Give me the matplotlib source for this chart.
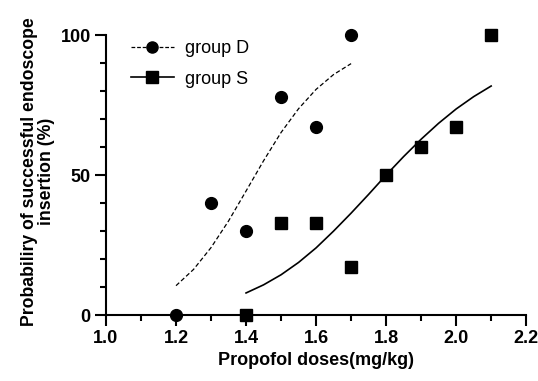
import matplotlib
matplotlib.use("Agg")
import matplotlib.pyplot as plt
from matplotlib.ticker import MultipleLocator
from matplotlib.lines import Line2D

plt.rcParams['font.family'] = ['Liberation Sans', 'DejaVu Sans']

# observed points
dose_d = [1.2, 1.3, 1.4, 1.5, 1.6, 1.7]
prob_d = [0, 40, 30, 78, 67, 100]
dose_s = [1.4, 1.5, 1.6, 1.7, 1.8, 1.9, 2.0, 2.1]
prob_s = [0, 33, 33, 17, 50, 60, 67, 100]

# fitted curves
fit_x_d = [1.20, 1.25, 1.30, 1.35, 1.40, 1.45, 1.50, 1.55, 1.60, 1.65, 1.70]
fit_y_d = [10.5, 16.3, 24.1, 33.6, 44.3, 55.1, 65.2, 73.7, 80.6, 85.9, 89.8]
fit_x_s = [1.40, 1.45, 1.50, 1.55, 1.60, 1.65, 1.70, 1.75, 1.80, 1.85,
           1.90, 1.95, 2.00, 2.05, 2.10]
fit_y_s = [7.9, 10.8, 14.4, 18.8, 24.0, 30.0, 36.4, 43.1, 50.0, 56.6,
           62.8, 68.5, 73.6, 78.0, 81.8]

xticks = [1.0, 1.2, 1.4, 1.6, 1.8, 2.0, 2.2]
xtick_labels = ['1.0', '1.2', '1.4', '1.6', '1.8', '2.0', '2.2']
yticks = [0, 50, 100]
ytick_labels = ['0', '50', '100']

fig = plt.figure(figsize=(5.38, 3.81), dpi=100)
ax = fig.add_axes([0.197, 0.173, 0.781, 0.735])

ax.plot(fit_x_d, fit_y_d, color='black', lw=0.9, ls=(0, (3.5, 2)))
ax.plot(fit_x_s, fit_y_s, color='black', lw=1.2)
ax.plot(dose_d, prob_d, 'o', color='black', ms=8.5, clip_on=False, zorder=5)
ax.plot(dose_s, prob_s, 's', color='black', ms=8.5, clip_on=False, zorder=5)

ax.set_xlim(1.0, 2.2)
ax.set_ylim(0, 100)
ax.xaxis.set_minor_locator(MultipleLocator(0.1))
ax.yaxis.set_minor_locator(MultipleLocator(10))
ax.set_xticks(xticks)
ax.set_xticklabels(xtick_labels, fontweight='bold')
ax.set_yticks(yticks)
ax.set_yticklabels(ytick_labels, fontweight='bold')
ax.tick_params(which='major', length=8, width=1.5, labelsize=13, pad=3)
ax.tick_params(which='minor', length=4.5, width=1.5)

for side in ['top', 'right']:
    ax.spines[side].set_visible(False)
for side in ['left', 'bottom']:
    ax.spines[side].set_linewidth(1.5)

ax.set_xlabel('Propofol doses(mg/kg)', fontsize=13, fontweight='bold', labelpad=3)
ax.set_ylabel('Probabiliry of successful endoscope\ninsertion (%)', fontsize=12.7,
              fontweight='bold', linespacing=1.0)
ax.yaxis.set_label_coords(-0.121, 0.5125)

handles = [Line2D([], [], color='black', lw=0.9, ls=(0, (3, 1.5)), marker='o', ms=8),
           Line2D([], [], color='black', lw=1.2, marker='s', ms=8)]
ax.legend(handles, ['group D', 'group S'], loc='upper left', bbox_to_anchor=(0.02, 1.04),
          frameon=False, fontsize=13, handlelength=2.4, handletextpad=0.6,
          labelspacing=0.75)

fig.savefig('out.png', dpi=100)
